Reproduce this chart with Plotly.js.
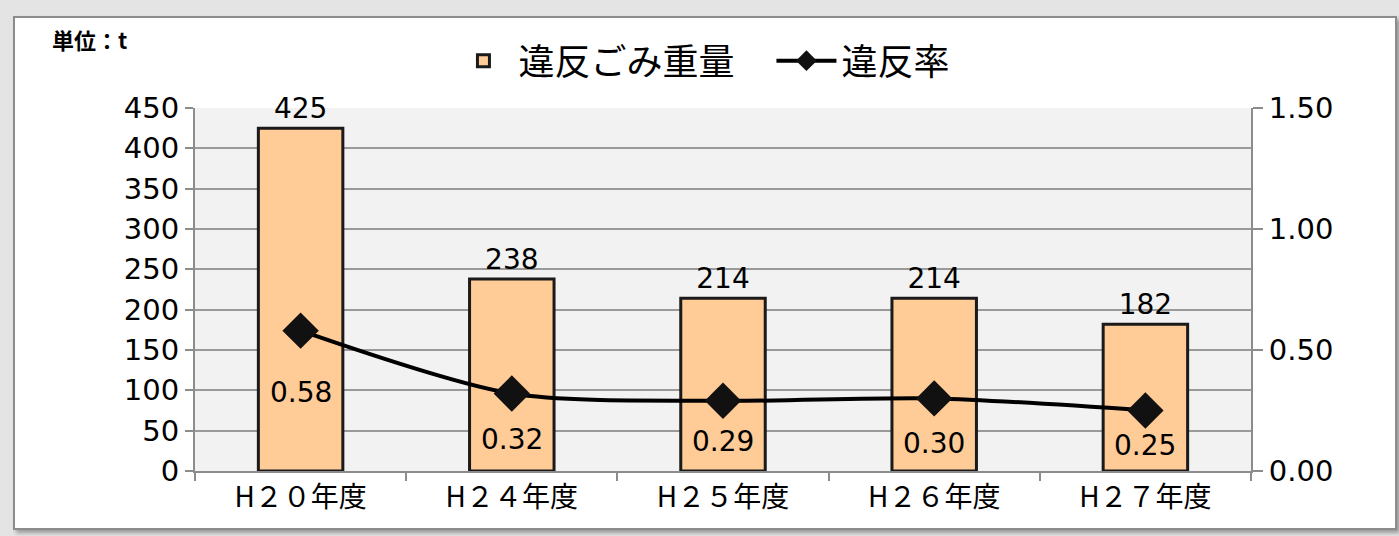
<!DOCTYPE html>
<html><head><meta charset="utf-8">
<script src="https://cdn.plot.ly/plotly-3.0.1.min.js"></script>
<style>
html,body{margin:0;padding:0;background:#e4e4e4;width:1399px;height:536px;overflow:hidden;}
#frame{position:absolute;left:13px;top:16px;width:1380px;height:510px;border:2px solid #8c8c8c;background:#fff;box-shadow:3px 3px 4px #9a9a9a;}
#chart{width:1380px;height:510px;}
</style></head>
<body><div id="frame"><div id="chart"></div></div>
<script>
const categories = ["H２０年度","H２４年度","H２５年度","H２６年度","H２７年度"];
const weights = [425, 238, 214, 214, 182];
const rates = [0.58, 0.32, 0.29, 0.30, 0.25];
const leftTicks = [0,50,100,150,200,250,300,350,400,450];
const rightTicks = [0, 0.5, 1.0, 1.5];
const rateLabelShift = [-62, -46, -41, -45, -35];

const FONT = "DejaVu Sans, Noto Sans CJK JP, sans-serif";
const CJK = "Noto Sans CJK JP, sans-serif";

const bar = {
  type: 'bar', name: '違反ごみ重量', x: categories, y: weights,
  marker: {color: '#FFCB97', line: {color: '#1a1a1a', width: 3}},
  text: weights.map(String), textposition: 'outside', cliponaxis: false,
  textfont: {family: FONT, size: 28, color: '#000'},
  hoverinfo: 'skip'
};
const line = {
  type: 'scatter', mode: 'lines+markers', name: '違反率', x: categories, y: rates, yaxis: 'y2',
  line: {color: '#000', width: 4, shape: 'spline', smoothing: 0.8},
  marker: {symbol: 'diamond', size: 28, color: '#111'},
  cliponaxis: false, hoverinfo: 'skip'
};
const annotations = rates.map((r, i) => ({
  x: categories[i], y: r, xref: 'x', yref: 'y2', text: r.toFixed(2), showarrow: false,
  yshift: rateLabelShift[i], font: {family: FONT, size: 28, color: '#000'}
}));
annotations.push({
  xref: 'paper', yref: 'paper', x: -0.137, y: 1.19, xanchor: 'left', yanchor: 'middle',
  text: '<b>単位：t</b>', showarrow: false, font: {family: CJK, size: 22, color: '#000'}
});

const layout = {
  width: 1380, height: 510,
  margin: {l: 180, r: 144, t: 90, b: 57},
  paper_bgcolor: '#fff', plot_bgcolor: '#f2f2f2',
  bargap: 0.6, showlegend: true,
  legend: {orientation: 'h', x: 0.240, xanchor: 'left', y: 1.13, yanchor: 'middle',
    entrywidth: 248, entrywidthmode: 'pixels',
    font: {family: CJK, size: 36, color: '#000'}, itemwidth: 60, bgcolor: 'rgba(0,0,0,0)'},
  xaxis: {type: 'category', showline: true, linecolor: '#8c8c8c', linewidth: 2,
    ticks: 'outside', tickson: 'boundaries', ticklen: 8, tickcolor: '#8c8c8c', tickwidth: 2,
    tickfont: {family: CJK, size: 28, color: '#000'}, showgrid: false, fixedrange: true},
  yaxis: {range: [0, 450], tickvals: leftTicks, ticktext: leftTicks.map(String),
    showline: true, linecolor: '#8c8c8c', linewidth: 2, ticks: 'outside', ticklen: 8,
    tickcolor: '#8c8c8c', tickwidth: 2, showgrid: true, gridcolor: '#9a9a9a', gridwidth: 2,
    tickfont: {family: FONT, size: 29, color: '#000'}, zeroline: false},
  yaxis2: {range: [0, 1.5], overlaying: 'y', side: 'right', tickvals: rightTicks,
    ticktext: rightTicks.map(v => v.toFixed(2)), showline: true, linecolor: '#8c8c8c',
    linewidth: 2, ticks: 'outside', ticklen: 10, tickcolor: '#8c8c8c', tickwidth: 2,
    showgrid: false, zeroline: false, tickfont: {family: FONT, size: 29, color: '#000'}},
  annotations: annotations
};
Plotly.newPlot('chart', [bar, line], layout, {displayModeBar: false, staticPlot: true});
</script></body></html>
